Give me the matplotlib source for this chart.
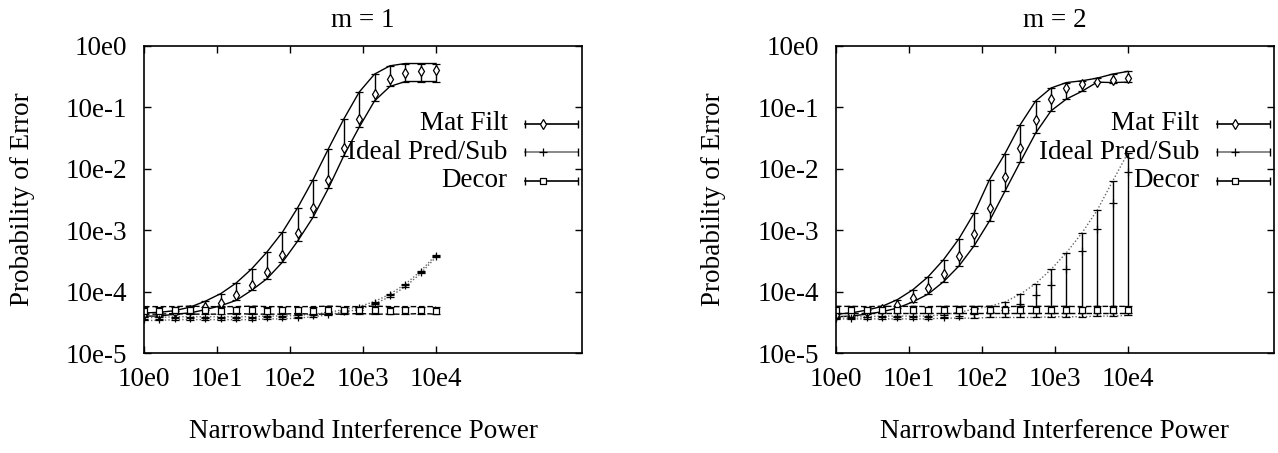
import matplotlib.pyplot as plt

plt.rcParams['font.family'] = ['Liberation Serif', 'DejaVu Serif']

# interference power grid (20 points, 1 .. 1e4)
power = [1.0, 1.62, 2.64, 4.28, 6.95, 11.3, 18.3, 29.8, 48.3, 78.5,
         127.0, 207.0, 336.0, 546.0, 886.0, 1438.0, 2336.0, 3793.0, 6158.0, 10000.0]

# ---- m = 1 ----
mf1 = [4.3e-5, 4.4e-5, 4.7e-5, 5.0e-5, 5.6e-5, 6.6e-5, 8.7e-5, 1.26e-4, 2.1e-4, 4.0e-4,
       9.0e-4, 2.3e-3, 6.5e-3, 2.16e-2, 6.4e-2, 0.162, 0.285, 0.355, 0.38, 0.393]
mf1_hi = [4.5e-5, 4.6e-5, 4.9e-5, 5.6e-5, 7.0e-5, 9.3e-5, 1.38e-4, 2.34e-4, 4.4e-4, 9.2e-4,
          2.3e-3, 6.6e-3, 2.1e-2, 6.4e-2, 0.175, 0.343, 0.468, 0.51, 0.51, 0.51]
mf1_lo = [4.0e-5, 4.0e-5, 4.3e-5, 4.5e-5, 5.1e-5, 5.9e-5, 7.2e-5, 1.05e-4, 1.62e-4, 3.0e-4,
          6.6e-4, 1.62e-3, 4.8e-3, 1.62e-2, 4.7e-2, 0.126, 0.216, 0.26, 0.26, 0.26]

ip1 = [3.6e-5, 3.6e-5, 3.7e-5, 3.7e-5, 3.7e-5, 3.7e-5, 3.7e-5, 3.7e-5, 3.8e-5, 3.8e-5,
       3.9e-5, 4.1e-5, 4.4e-5, 4.9e-5, 5.4e-5, 6.6e-5, 8.7e-5, 1.26e-4, 2.06e-4, 3.8e-4]
ip1_hi = [3.8e-5, 3.8e-5, 3.9e-5, 3.9e-5, 3.9e-5, 3.9e-5, 3.9e-5, 3.9e-5, 4.0e-5, 4.0e-5,
          4.1e-5, 4.3e-5, 4.6e-5, 5.1e-5, 5.7e-5, 6.9e-5, 9.1e-5, 1.32e-4, 2.15e-4, 3.95e-4]
ip1_lo = [3.4e-5, 3.4e-5, 3.5e-5, 3.5e-5, 3.5e-5, 3.5e-5, 3.5e-5, 3.5e-5, 3.6e-5, 3.6e-5,
          3.7e-5, 3.9e-5, 4.2e-5, 4.7e-5, 5.1e-5, 6.3e-5, 8.3e-5, 1.2e-4, 1.97e-4, 3.65e-4]

dc1 = [4.9e-5, 4.9e-5, 5.0e-5, 5.0e-5, 5.0e-5, 4.9e-5, 5.0e-5, 5.0e-5, 4.9e-5, 5.0e-5,
       5.0e-5, 4.9e-5, 5.0e-5, 5.0e-5, 5.0e-5, 5.0e-5, 4.9e-5, 5.0e-5, 5.0e-5, 4.9e-5]
dc1_hi = [5.7e-5, 5.7e-5, 5.7e-5, 5.8e-5, 5.7e-5, 5.7e-5, 5.7e-5, 5.8e-5, 5.7e-5, 5.7e-5,
          5.7e-5, 5.7e-5, 5.8e-5, 5.7e-5, 5.7e-5, 5.8e-5, 5.7e-5, 5.7e-5, 5.7e-5, 5.7e-5]
dc1_lo = [4.3e-5, 4.3e-5, 4.4e-5, 4.3e-5, 4.3e-5, 4.3e-5, 4.4e-5, 4.3e-5, 4.3e-5, 4.3e-5,
          4.4e-5, 4.3e-5, 4.3e-5, 4.3e-5, 4.4e-5, 4.3e-5, 4.3e-5, 4.3e-5, 4.4e-5, 4.3e-5]

# ---- m = 2 ----
mf2 = [4.1e-5, 4.3e-5, 4.7e-5, 5.2e-5, 6.0e-5, 7.9e-5, 1.15e-4, 1.95e-4, 3.8e-4, 8.7e-4,
       2.3e-3, 7.2e-3, 2.16e-2, 6.1e-2, 0.135, 0.204, 0.24, 0.26, 0.277, 0.30]
mf2_hi = [4.3e-5, 4.5e-5, 5.0e-5, 5.75e-5, 7.4e-5, 1.07e-4, 1.74e-4, 3.3e-4, 7.2e-4, 1.9e-3,
          6.6e-3, 1.75e-2, 5.2e-2, 0.126, 0.204, 0.25, 0.267, 0.295, 0.343, 0.38]
mf2_lo = [3.9e-5, 4.0e-5, 4.3e-5, 4.7e-5, 5.4e-5, 6.8e-5, 9.1e-5, 1.45e-4, 2.6e-4, 5.6e-4,
          1.41e-3, 4.3e-3, 1.29e-2, 3.8e-2, 8.7e-2, 0.135, 0.18, 0.254, 0.25, 0.254]

ip2 = [3.7e-5, 3.7e-5, 3.8e-5, 3.8e-5, 3.8e-5, 3.8e-5, 3.8e-5, 3.9e-5, 4.0e-5, 4.3e-5,
       4.7e-5, 5.1e-5, 6.3e-5, 8.7e-5, 1.3e-4, 2.3e-4, 4.6e-4, 1.05e-3, 2.8e-3, 8.7e-3]
ip2_hi = [3.9e-5, 3.9e-5, 3.9e-5, 4.0e-5, 4.0e-5, 4.0e-5, 4.0e-5, 4.2e-5, 4.6e-5, 5.2e-5,
          5.75e-5, 6.8e-5, 9.1e-5, 1.35e-4, 2.3e-4, 4.3e-4, 8.9e-4, 2.1e-3, 6.2e-3, 1.8e-2]
ip2_lo = [3.6e-5, 3.6e-5, 3.6e-5, 3.6e-5, 3.6e-5, 3.6e-5, 3.6e-5, 3.7e-5, 3.7e-5, 3.7e-5,
          3.8e-5, 3.8e-5, 3.8e-5, 3.8e-5, 3.9e-5, 3.9e-5, 3.9e-5, 4.0e-5, 4.0e-5, 4.1e-5]

dc2 = [5.1e-5, 5.1e-5, 5.1e-5, 5.0e-5, 5.1e-5, 5.1e-5, 5.1e-5, 5.1e-5, 5.0e-5, 5.1e-5,
       5.1e-5, 5.1e-5, 5.1e-5, 5.1e-5, 5.0e-5, 5.1e-5, 5.1e-5, 5.1e-5, 5.1e-5, 5.1e-5]
dc2_hi = [5.75e-5, 5.75e-5, 5.7e-5, 5.75e-5, 5.75e-5, 5.75e-5, 5.7e-5, 5.75e-5, 5.75e-5, 5.75e-5,
          5.75e-5, 5.7e-5, 5.75e-5, 5.75e-5, 5.75e-5, 5.75e-5, 5.7e-5, 5.75e-5, 5.75e-5, 5.75e-5]
dc2_lo = [4.5e-5, 4.5e-5, 4.5e-5, 4.5e-5, 4.5e-5, 4.5e-5, 4.5e-5, 4.5e-5, 4.5e-5, 4.5e-5,
          4.5e-5, 4.5e-5, 4.5e-5, 4.5e-5, 4.5e-5, 4.5e-5, 4.5e-5, 4.5e-5, 4.5e-5, 4.5e-5]

xticks = [1, 10, 100, 1000, 10000]
xticklabels = ['10e0', '10e1', '10e2', '10e3', '10e4']
yticks = [1e-5, 1e-4, 1e-3, 1e-2, 1e-1, 1]
yticklabels = ['10e-5', '10e-4', '10e-3', '10e-2', '10e-1', '10e0']
labels = ['Mat Filt', 'Ideal Pred/Sub', 'Decor']

FS = 19.5
IP_GREY = '0.4'


def series(ax, c, hi, lo, marker, ls, lcolor, ms):
    ax.plot(power, hi, ls=ls, color=lcolor, lw=1)
    ax.plot(power, lo, ls=ls, color=lcolor, lw=1)
    yerr = [[ci - li for ci, li in zip(c, lo)], [hi_i - ci for ci, hi_i in zip(c, hi)]]
    ax.errorbar(power, c, yerr=yerr, fmt=marker, color='black', mfc='white',
                ms=ms, mew=0.9, elinewidth=1, capsize=3, capthick=1)


def key_row(ax, y, text, marker, color, ms):
    ax.text(0.83, y, text, transform=ax.transAxes, ha='right', va='center', fontsize=FS)
    ax.plot([0.87, 0.99], [y, y], transform=ax.transAxes, color=color, lw=1.2,
            marker='|', ms=6, mec='black', clip_on=False)
    ax.plot([0.912], [y], transform=ax.transAxes, marker=marker, color='black',
            mfc='white', ms=ms, mew=0.9, clip_on=False)


def panel(ax, title, mf, mfh, mfl, ip, iph, ipl, dc, dch, dcl):
    series(ax, mf, mfh, mfl, 'd', '-', 'black', 5)
    series(ax, ip, iph, ipl, '+', (0, (1, 1.5)), IP_GREY, 6)
    series(ax, dc, dch, dcl, 's', (0, (4, 2)), 'black', 5)

    ax.set_xscale('log')
    ax.set_yscale('log')
    ax.set_xlim(1, 1e6)
    ax.set_ylim(1e-5, 1)
    ax.set_xticks(xticks)
    ax.set_xticklabels(xticklabels)
    ax.set_yticks(yticks)
    ax.set_yticklabels(yticklabels)
    ax.minorticks_off()
    ax.tick_params(direction='in', length=5, width=1, top=True, right=True,
                   labelsize=FS)
    ax.tick_params(axis='y', pad=12)
    ax.tick_params(axis='x', pad=10)
    for s in ax.spines.values():
        s.set_linewidth(1.2)

    ax.set_title(title, fontsize=FS, pad=13)
    ax.set_xlabel('Narrowband Interference Power', fontsize=FS)
    ax.xaxis.set_label_coords(0.5, -0.215)
    ax.set_ylabel('Probability of Error', fontsize=FS)
    ax.yaxis.set_label_coords(-0.25, 0.5)

    key_row(ax, 0.745, labels[0], 'd', 'black', 5)
    key_row(ax, 0.653, labels[1], '+', '0.45', 6)
    key_row(ax, 0.561, labels[2], 's', 'black', 5)


fig = plt.figure(figsize=(12.78, 4.53), dpi=100)
ax1 = fig.add_axes([0.1127, 0.2205, 0.3427, 0.679])
ax2 = fig.add_axes([0.6541, 0.2205, 0.3427, 0.679])

panel(ax1, 'm = 1', mf1, mf1_hi, mf1_lo, ip1, ip1_hi, ip1_lo, dc1, dc1_hi, dc1_lo)
panel(ax2, 'm = 2', mf2, mf2_hi, mf2_lo, ip2, ip2_hi, ip2_lo, dc2, dc2_hi, dc2_lo)

fig.savefig('out.png', dpi=100)
